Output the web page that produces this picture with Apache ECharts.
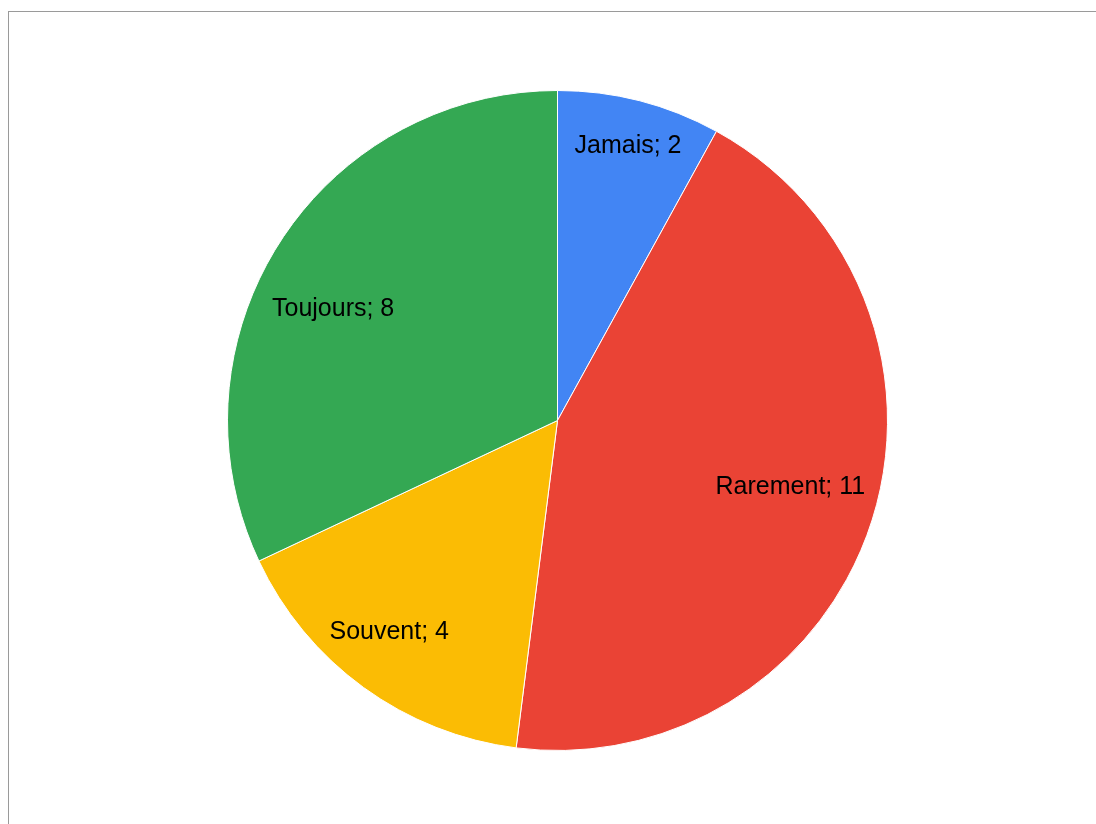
<!DOCTYPE html>
<html>
<head>
<meta charset="utf-8">
<script src="https://cdn.jsdelivr.net/npm/echarts@6/dist/echarts.min.js"></script>
<style>
  html, body { margin: 0; padding: 0; overflow: hidden; background: #fff; }
  #frame { position: absolute; left: 8px; top: 11px; width: 1200px; height: 900px;
           border-left: 1px solid #9a9a9a; border-top: 1px solid #9a9a9a; }
  #main { position: absolute; left: 0; top: 0; width: 1096px; height: 824px; }
</style>
</head>
<body>
<div id="frame"></div>
<div id="main"></div>
<script>
var categories = ['Jamais', 'Rarement', 'Souvent', 'Toujours'];
var values = [2, 11, 4, 8];
var colors = ['#4285f4', '#ea4335', '#fbbc04', '#34a853'];

// label placement tweaks: fraction of radius, and angle nudge in degrees
var labelPos = [0.85, 0.725, 0.81, 0.75];
var labelTurn = [0, 2, -2.5, 6];

var R = 330;
var center = [557.5, 420.5];

var myChart = echarts.init(document.getElementById('main'));

var pieData = categories.map(function (c, i) {
    return { name: c, value: values[i], itemStyle: { color: colors[i] } };
});

var series = [{
    type: 'pie',
    center: center,
    radius: [0, R],
    startAngle: 90,
    clockwise: true,
    silent: true,
    label: { show: false },
    labelLine: { show: false },
    itemStyle: { borderColor: '#fff', borderWidth: 1 },
    data: pieData
}];

// invisible rings, one per label, only to place the label text
categories.forEach(function (c, i) {
    var f = labelPos[i];
    series.push({
        type: 'pie',
        center: center,
        radius: [(f - 0.05) * R, (f + 0.05) * R],
        startAngle: 90 + labelTurn[i],
        clockwise: true,
        silent: true,
        itemStyle: { color: 'rgba(0,0,0,0)', borderWidth: 0 },
        labelLine: { show: false },
        data: categories.map(function (cc, j) {
            return {
                name: cc,
                value: values[j],
                label: {
                    show: j === i,
                    position: 'inside',
                    formatter: '{b}; {c}',
                    color: '#000',
                    fontFamily: 'Liberation Sans, Arial, sans-serif',
                    fontSize: 25
                }
            };
        })
    });
});

var option = {
    animation: false,
    series: series
};
myChart.setOption(option);
</script>
</body>
</html>
